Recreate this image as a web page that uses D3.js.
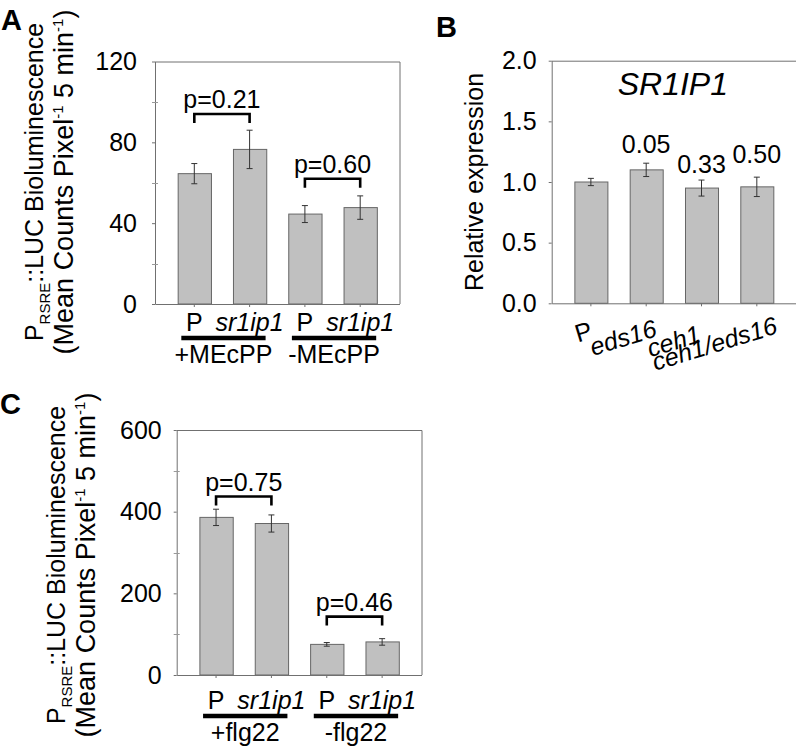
<!DOCTYPE html>
<html><head><meta charset="utf-8">
<script src="https://cdn.jsdelivr.net/npm/d3@7"></script>
<style>
body{margin:0;background:#fff;}
svg{display:block;font-family:"Liberation Sans",Arial,sans-serif;}
</style></head><body>
<svg id="chart" width="796" height="750"></svg>
<script>
// ---------- DATA ----------
// Panel A
const aCategories = ["P", "sr1ip1", "P", "sr1ip1"];
const aGroups = ["+MEcPP", "-MEcPP"];
const aValues = [64.5, 76.5, 44.5, 47.7];
const aErrors = [5, 9.5, 4.2, 5.8];
const aPValues = ["p=0.21", "p=0.60"];
const aBracketLevels = [94, 62];
const aTicks = [0, 40, 80, 120];
const aMinorTicks = [20, 60, 100];

// Panel B
const bCategories = ["P", "eds16", "ceh1", "ceh1/eds16"];
const bValues = [1.00, 1.10, 0.95, 0.96];
const bErrors = [0.03, 0.055, 0.066, 0.08];
const bPValues = ["", "0.05", "0.33", "0.50"];
const bTicks = [0, 0.5, 1.0, 1.5, 2.0];
const bGene = "SR1IP1";

// Panel C
const cCategories = ["P", "sr1ip1", "P", "sr1ip1"];
const cGroups = ["+flg22", "-flg22"];
const cValues = [386, 371, 75, 81];
const cErrors = [20, 21, 4.5, 8];
const cPValues = ["p=0.75", "p=0.46"];
const cBracketLevels = [437, 143];
const cTicks = [0, 200, 400, 600];
const cMinorTicks = [100, 300, 500];

// ---------- LAYOUT / STYLE ----------
const FRAME = "#707070";
const BAR_FILL = "#c0c0c0";
const BAR_STROKE = "#666";
const ERR = "#333";
const FONT = '"Liberation Sans", Arial, sans-serif';
const bLabelOffsets = [[3, 337.5], [12, 336], [0.5, 341.5], [22, 333]];
const bPValueGaps = [10, 10, 7, 14];

const svg = d3.select("#chart");

function styleAxis(ax, fs) {
  ax.attr("font-size", null).attr("font-family", null);
  ax.select(".domain").attr("stroke", FRAME);
  ax.selectAll(".tick line").attr("stroke", FRAME);
  ax.selectAll(".tick text").attr("font-size", fs).attr("fill", "#000").attr("font-family", FONT);
}

function drawErrors(g, x, y, values, errors) {
  const cx = i => x(i) + x.bandwidth() / 2;
  const eg = g.append("g").attr("stroke", ERR).attr("stroke-width", 1);
  eg.selectAll("line.v").data(values).join("line")
    .attr("x1", (d, i) => cx(i)).attr("x2", (d, i) => cx(i))
    .attr("y1", (d, i) => y(d - errors[i])).attr("y2", (d, i) => y(d + errors[i]));
  eg.selectAll("line.t").data(values).join("line")
    .attr("x1", (d, i) => cx(i) - 3).attr("x2", (d, i) => cx(i) + 3)
    .attr("y1", (d, i) => y(d + errors[i])).attr("y2", (d, i) => y(d + errors[i]));
  eg.selectAll("line.b").data(values).join("line")
    .attr("x1", (d, i) => cx(i) - 3).attr("x2", (d, i) => cx(i) + 3)
    .attr("y1", (d, i) => y(d - errors[i])).attr("y2", (d, i) => y(d - errors[i]));
}

function drawGrouped(cfg) {
  const x = d3.scaleBand().domain(d3.range(cfg.values.length))
    .range([cfg.left, cfg.right]).paddingInner(0.398).paddingOuter(0.41);
  const y = d3.scaleLinear().domain([0, cfg.yMax]).range([cfg.bottom, cfg.top]);
  const cx = i => x(i) + x.bandwidth() / 2;
  const g = svg.append("g");

  // frame top + right
  g.append("path").attr("d", `M${cfg.left},${cfg.top + 0.5}H${cfg.right + 0.5}V${cfg.bottom}`)
    .attr("fill", "none").attr("stroke", FRAME);

  // bars
  g.selectAll("rect.bar").data(cfg.values).join("rect").attr("class", "bar")
    .attr("x", (d, i) => x(i) + 0.5).attr("y", d => y(d))
    .attr("width", x.bandwidth()).attr("height", d => cfg.bottom - y(d))
    .attr("fill", BAR_FILL).attr("stroke", BAR_STROKE);
  drawErrors(g, x, y, cfg.values, cfg.errors);

  // y axis
  const ya = g.append("g").attr("transform", `translate(${cfg.left},0)`)
    .call(d3.axisLeft(y).tickValues(cfg.ticks).tickSize(3).tickSizeOuter(0).tickPadding(cfg.tickPad));
  styleAxis(ya, 25);
  g.append("g").selectAll("line").data(cfg.minor).join("line")
    .attr("x1", cfg.left - 3).attr("x2", cfg.left + 3)
    .attr("y1", d => Math.round(y(d)) + 0.5).attr("y2", d => Math.round(y(d)) + 0.5)
    .attr("stroke", "#999");

  // x axis
  const xa = g.append("g").attr("transform", `translate(0,${cfg.bottom})`)
    .call(d3.axisBottom(x).tickSize(3).tickSizeOuter(0).tickFormat(() => ""));
  styleAxis(xa, 25);

  // brackets
  cfg.pvals.forEach((p, k) => {
    const x1 = cx(2 * k), x2 = cx(2 * k + 1), yb = y(cfg.brackets[k]);
    g.append("path").attr("d", `M${x1},${yb + 9}V${yb}H${x2}V${yb + 9}`)
      .attr("fill", "none").attr("stroke", "#000").attr("stroke-width", 2.6);
    g.append("text").attr("x", (x1 + x2) / 2).attr("y", yb - 6)
      .attr("text-anchor", "middle").attr("font-size", 25).text(p);
  });

  // category labels
  g.selectAll("text.cat").data(cfg.cats).join("text").attr("class", "cat")
    .attr("x", (d, i) => cx(i)).attr("y", cfg.labelY)
    .attr("text-anchor", "middle").attr("font-size", 25)
    .attr("font-style", d => d === "P" ? "normal" : "italic")
    .text(d => d);

  // group bars + labels
  cfg.groups.forEach((gl, k) => {
    const x1 = cx(2 * k) - 13, x2 = cx(2 * k + 1) + 16;
    g.append("line").attr("x1", x1).attr("x2", x2)
      .attr("y1", cfg.labelY + 7.5).attr("y2", cfg.labelY + 7.5)
      .attr("stroke", "#000").attr("stroke-width", 4.5);
    g.append("text").attr("x", (x1 + x2) / 2).attr("y", cfg.labelY + 32)
      .attr("text-anchor", "middle").attr("font-size", 25).text(gl);
  });

  // y label (two lines)
  const t1 = g.append("text").attr("transform", `translate(${cfg.yl1},${cfg.ylCy}) rotate(-90)`)
    .attr("text-anchor", "middle").attr("font-size", 25);
  t1.append("tspan").text("P");
  t1.append("tspan").attr("font-size", 15).attr("dy", 7).text("RSRE");
  t1.append("tspan").attr("dy", -7).text("::LUC Bioluminescence");
  const t2 = g.append("text").attr("transform", `translate(${cfg.yl2},${cfg.ylCy}) rotate(-90)`)
    .attr("text-anchor", "middle").attr("font-size", 27);
  t2.append("tspan").text("(Mean Counts Pixel");
  t2.append("tspan").attr("font-size", 15).attr("dy", -10).text("-1");
  t2.append("tspan").attr("dy", 10).text(" 5 min");
  t2.append("tspan").attr("font-size", 15).attr("dy", -10).text("-1");
  t2.append("tspan").attr("dy", 10).text(")");
}

// ----- Panel A -----
drawGrouped({
  left: 155, right: 399.5, top: 61.5, bottom: 304, yMax: 120,
  ticks: aTicks, minor: aMinorTicks, values: aValues, errors: aErrors,
  cats: aCategories, groups: aGroups, pvals: aPValues, brackets: aBracketLevels,
  tickPad: 15, labelY: 330.5, yl1: 43, yl2: 73, ylCy: 182
});

// ----- Panel C -----
drawGrouped({
  left: 176.7, right: 421.5, top: 430, bottom: 675, yMax: 600,
  ticks: cTicks, minor: cMinorTicks, values: cValues, errors: cErrors,
  cats: cCategories, groups: cGroups, pvals: cPValues, brackets: cBracketLevels,
  tickPad: 12, labelY: 708.5, yl1: 65, yl2: 95, ylCy: 565
});

// ----- Panel B -----
(function () {
  const left = 551.7, right = 796, top = 60.7, bottom = 303.3;
  const x = d3.scaleBand().domain(d3.range(bValues.length)).range([left, right])
    .paddingInner(0.403).paddingOuter(0.41);
  const y = d3.scaleLinear().domain([0, 2]).range([bottom, top]);
  const cx = i => x(i) + x.bandwidth() / 2;
  const g = svg.append("g");
  g.append("path").attr("d", `M${left},${top + 0.5}H${right + 2}`)
    .attr("fill", "none").attr("stroke", FRAME);
  g.selectAll("rect.bar").data(bValues).join("rect").attr("class", "bar")
    .attr("x", (d, i) => x(i) + 0.5).attr("y", d => y(d))
    .attr("width", x.bandwidth()).attr("height", d => bottom - y(d))
    .attr("fill", BAR_FILL).attr("stroke", BAR_STROKE);
  drawErrors(g, x, y, bValues, bErrors);

  const ya = g.append("g").attr("transform", `translate(${left},0)`)
    .call(d3.axisLeft(y).tickValues(bTicks).tickSize(3).tickSizeOuter(0).tickPadding(12)
      .tickFormat(d3.format(".1f")));
  styleAxis(ya, 25);
  const xa = g.append("g").attr("transform", `translate(0,${bottom})`)
    .call(d3.axisBottom(x).tickSize(3).tickSizeOuter(0).tickFormat(() => ""));
  styleAxis(xa, 25);

  // p-values above bars
  g.selectAll("text.pv").data(bPValues).join("text").attr("class", "pv")
    .attr("x", (d, i) => cx(i)).attr("y", (d, i) => y(bValues[i] + bErrors[i]) - bPValueGaps[i])
    .attr("text-anchor", "middle").attr("font-size", 25).text(d => d);

  // gene title
  g.append("text").attr("x", (left + right) / 2 - 1).attr("y", 95)
    .attr("text-anchor", "middle").attr("font-size", 32).attr("font-style", "italic").text(bGene);

  // rotated category labels
  g.selectAll("text.cat").data(bCategories).join("text").attr("class", "cat")
    .attr("transform", (d, i) => `translate(${cx(i) + bLabelOffsets[i][0]},${bLabelOffsets[i][1]}) rotate(-17)`)
    .attr("text-anchor", "end").attr("font-size", 25)
    .attr("font-style", d => d === "P" ? "normal" : "italic")
    .text(d => d);

  g.append("text").attr("transform", `translate(483,${(top + bottom) / 2}) rotate(-90)`)
    .attr("text-anchor", "middle").attr("font-size", 25).text("Relative expression");
})();

// panel letters
[["A", 1, 30], ["B", 436, 37], ["C", 0, 414]].forEach(([t, x, y]) => {
  svg.append("text").attr("x", x).attr("y", y).attr("font-size", 29)
    .attr("font-weight", "bold").text(t);
});
</script>
</body></html>
